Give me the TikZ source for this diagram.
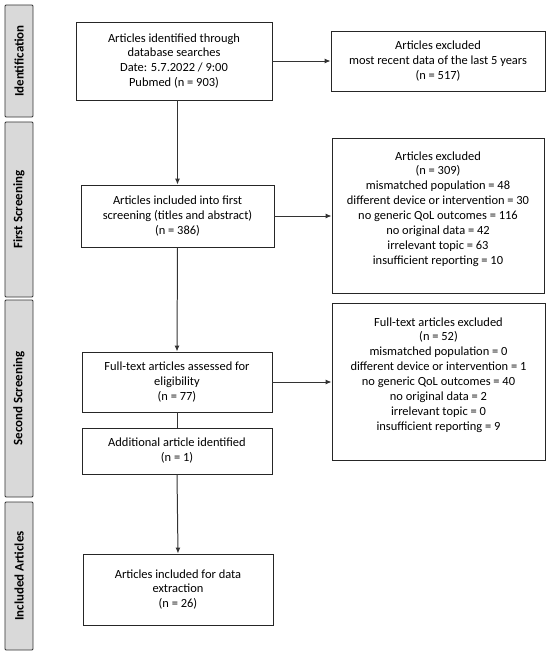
\documentclass[tikz,border=0pt]{standalone}
\usepackage{fontspec}
\setmainfont{Carlito}
\usetikzlibrary{arrows.meta}

\begin{document}
\begin{tikzpicture}[x=1bp,y=-1bp,
    font=\fontsize{12.5}{15}\selectfont,
    flowbox/.style={draw=black!85,line width=0.9pt,align=center,inner sep=2pt},
    phasebar/.style={draw=black!80,line width=0.9pt,fill=black!15,rounded corners=1pt,
        rotate=90,minimum height=28bp,inner sep=0pt,font=\fontsize{13}{14}\selectfont\bfseries},
    flow/.style={draw=black!80,line width=1pt,-{Latex[length=6pt,width=5pt]}}]
    \useasboundingbox (0,0) rectangle (550,653);

    % Phases on the left:
    % grey bars with the phase name turned upright
    \foreach \i/\yc/\len/\txt in {1/61/112/Identification,
                                   2/209.5/175/First Screening,
                                   3/398.5/197/Second Screening,
                                   4/576/148/Included Articles}{%
        \node [phasebar,minimum width=\len bp] (phase\i) at (19,\yc) {\txt};
    }

    % Main column
    \node [flowbox,minimum width=196bp,minimum height=78bp] (ident) at (174,61)
        {Articles identified through\\database searches\\Date: 5.7.2022 / 9:00\\Pubmed (n = 903)};
    \node [flowbox,minimum width=193bp,minimum height=62bp] (first) at (177.5,216)
        {Articles included into first\\screening (titles and abstract)\\(n = 386)};
    \node [flowbox,minimum width=190bp,minimum height=60bp] (fulltext) at (177,382)
        {Full-text articles assessed for\\eligibility\\(n = 77)};
    \node [flowbox,minimum width=190bp,minimum height=46bp] (additional) at (177,451)
        {Additional article identified\\(n = 1)};
    \node [flowbox,minimum width=190bp,minimum height=71bp] (included) at (178,589.5)
        {Articles included for data\\extraction\\(n = 26)};

    % Exclusions on the right
    \node [flowbox,minimum width=214bp,minimum height=60bp] (excl1) at (438,61)
        {Articles excluded\\most recent data of the last 5 years\\(n = 517)};
    \node [flowbox,minimum width=212bp,minimum height=155bp] (excl2) at (438,215.5)
        {Articles excluded\\(n = 309)\\mismatched population = 48\\different device or intervention = 30\\
         no generic QoL outcomes = 116\\no original data = 42\\irrelevant topic = 63\\insufficient reporting = 10\\~};
    \node [flowbox,minimum width=213bp,minimum height=157bp] (excl3) at (438.5,381.5)
        {Full-text articles excluded\\(n = 52)\\mismatched population = 0\\different device or intervention = 1\\
         no generic QoL outcomes = 40\\no original data = 2\\irrelevant topic = 0\\insufficient reporting = 9\\~};

    % Connectors:
    % down the middle, and across to each exclusion box
    \draw [flow] (ident.south -| first.north) -- (first.north);
    \draw [flow] (first.south) -- (fulltext.north);
    \draw [draw=black!80,line width=1pt] (fulltext.south) -- (additional.north);
    \draw [flow] (additional.south) -- (included.north);
    \draw [flow] (ident.east) -- (ident.east -| excl1.west);
    \draw [flow] (first.east) -- (first.east -| excl2.west);
    \draw [flow] (fulltext.east) -- (fulltext.east -| excl3.west);
\end{tikzpicture}
\end{document}
